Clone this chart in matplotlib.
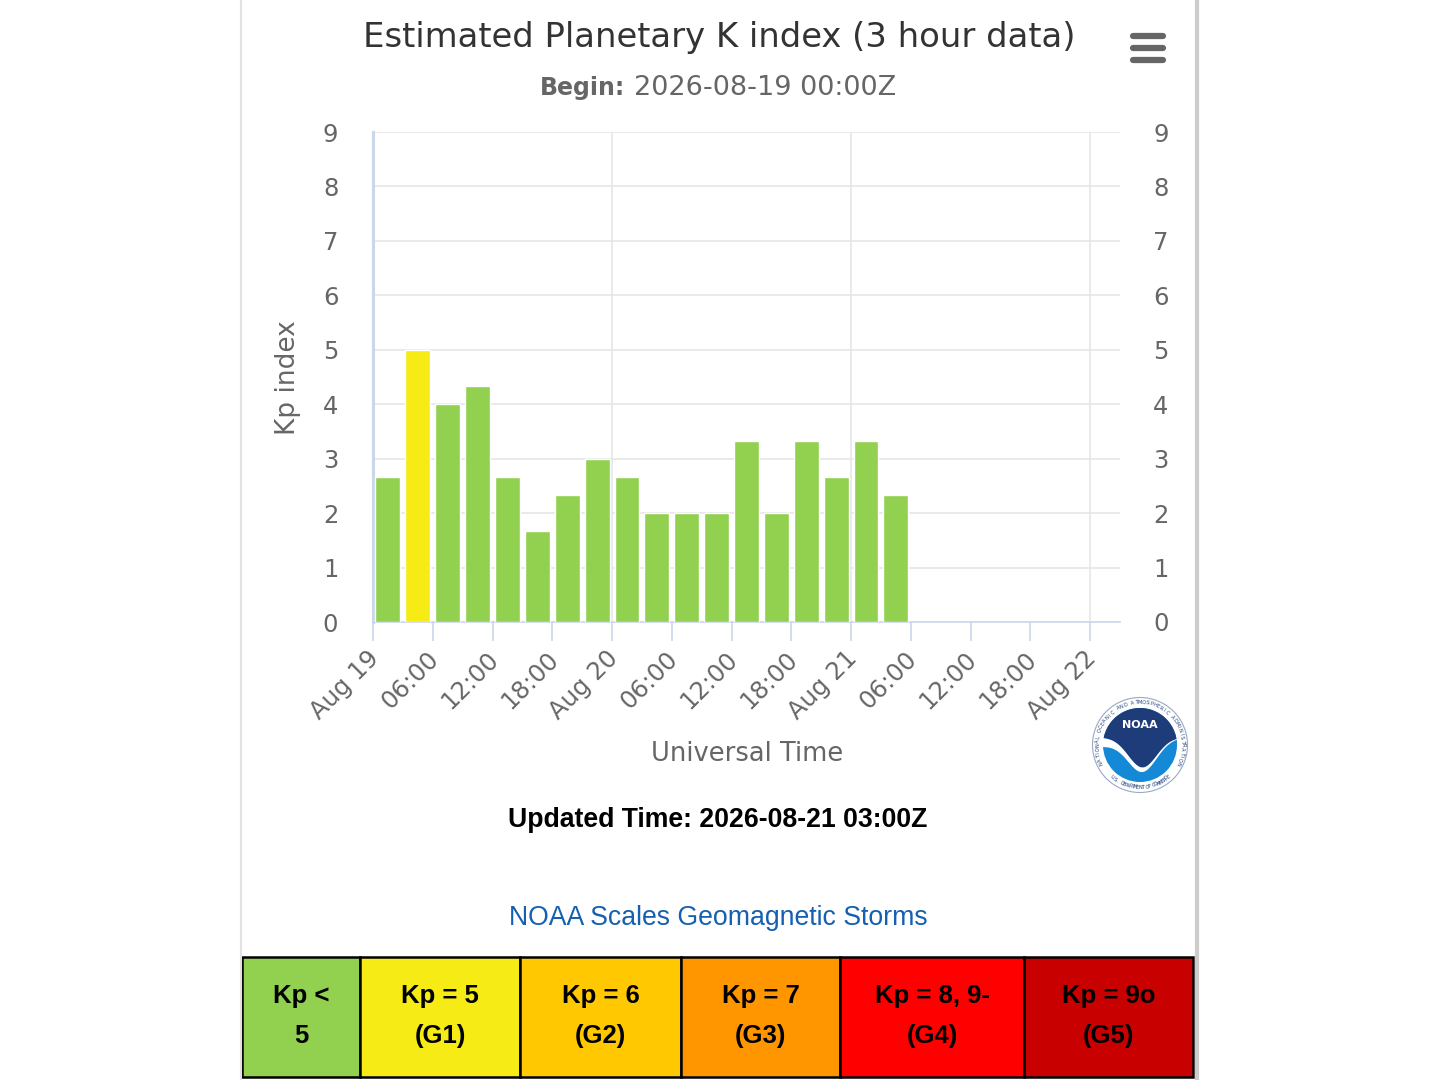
import numpy as np
import matplotlib
matplotlib.use("Agg")
import matplotlib.pyplot as plt
from matplotlib.patches import Rectangle, Circle, Polygon
from matplotlib.lines import Line2D
from matplotlib.transforms import ScaledTranslation

# Kp data, 3-hour intervals starting 2026-08-19 00:00Z (hours since begin)
hours = [0, 3, 6, 9, 12, 15, 18, 21, 24, 27, 30, 33, 36, 39, 42, 45, 48, 51]
kp = [2.67, 5.0, 4.0, 4.33, 2.67, 1.67, 2.33, 3.0, 2.67, 2.0, 2.0, 2.0,
      3.33, 2.0, 3.33, 2.67, 3.33, 2.33]

tick_hours = [0, 6, 12, 18, 24, 30, 36, 42, 48, 54, 60, 66, 72]
tick_labels = ["Aug 19", "06:00", "12:00", "18:00", "Aug 20", "06:00", "12:00",
               "18:00", "Aug 21", "06:00", "12:00", "18:00", "Aug 22"]
day_hours = [24, 48, 72]

scale_labels = [("Kp <", "5"), ("Kp = 5", "(G1)"), ("Kp = 6", "(G2)"),
                ("Kp = 7", "(G3)"), ("Kp = 8, 9-", "(G4)"), ("Kp = 9o", "(G5)")]
scale_colors = ["#92d050", "#f6eb14", "#ffc800", "#ff9600", "#ff0000", "#c80000"]
scale_edges = [242, 360, 520, 681, 840, 1024, 1193]  # pixel columns of the table


def bar_color(v):
    if v >= 9:
        return scale_colors[5]
    if v >= 8:
        return scale_colors[4]
    if v >= 7:
        return scale_colors[3]
    if v >= 6:
        return scale_colors[2]
    if v >= 5:
        return scale_colors[1]
    return scale_colors[0]


W, H = 1440, 1080
fig = plt.figure(figsize=(14.4, 10.8), dpi=100)
fig.patch.set_facecolor("white")


def fx(px):
    return px / W


def fy(py):
    return 1 - py / H


# page borders
fig.add_artist(Line2D([fx(241), fx(241)], [0, 1], color="#e2e2e2", lw=1.5))
fig.add_artist(Line2D([fx(1197), fx(1197)], [0, 1], color="#cccccc", lw=3))

# main axes
ax = fig.add_axes([fx(373), fy(622), fx(1120) - fx(373), fy(132) - fy(622)])
ax.set_xlim(0, 75)
ax.set_ylim(0, 9)
ax.set_axisbelow(True)
ax.grid(axis="y", color="#e6e6e6", lw=1.2)
for d in day_hours:
    ax.axvline(d, color="#e6e6e6", lw=1.2, zorder=0)

ax.bar([h + 1.5 for h in hours], kp, width=2.5, color=[bar_color(v) for v in kp],
       edgecolor="white", linewidth=1, zorder=3)

for s in ["top", "right"]:
    ax.spines[s].set_visible(False)
ax.spines["left"].set_color("#ccd6eb")
ax.spines["left"].set_linewidth(2.2)
ax.spines["bottom"].set_color("#ccd6eb")
ax.spines["bottom"].set_linewidth(1.2)

ax.set_xticks(tick_hours)
ax.set_xticklabels(tick_labels, rotation=45, ha="right", va="top",
                   rotation_mode="anchor")
ax.tick_params(axis="x", length=14, width=1.2, color="#ccd6eb", pad=3,
               labelsize=17.5, labelcolor="#666666")
shift = ScaledTranslation(-6 / 100, -1 / 100, fig.dpi_scale_trans)
for lab in ax.get_xticklabels():
    lab.set_transform(lab.get_transform() + shift)
ax.set_yticks(range(10))
ax.tick_params(axis="y", length=0, pad=25, labelsize=17.5, labelcolor="#666666")

ax2 = ax.twinx()
ax2.set_ylim(0, 9)
ax2.set_yticks(range(10))
ax2.tick_params(axis="y", length=0, pad=24, labelsize=17.5, labelcolor="#666666")
for s in ax2.spines.values():
    s.set_visible(False)

# titles and labels
fig.text(fx(719), fy(38), "Estimated Planetary K index (3 hour data)", ha="center",
         va="center", fontsize=24.4, color="#333333")
fig.text(fx(625), fy(88), "Begin:", ha="right", va="center", fontsize=17,
         fontweight="bold", color="#666666")
fig.text(fx(634), fy(88), "2026-08-19 00:00Z", ha="left", va="center", fontsize=19.5,
         color="#666666")
fig.text(fx(288), fy(378), "Kp index", rotation=90, ha="center", va="center",
         fontsize=19, color="#666666")
fig.text(fx(747), fy(754), "Universal Time", ha="center", va="center",
         fontsize=18.5, color="#666666")

# hamburger menu
for yy in [36, 48, 60]:
    fig.add_artist(Line2D([fx(1133), fx(1163)], [fy(yy), fy(yy)], color="#666666",
                          lw=4.5, solid_capstyle="round"))

fig.text(fx(718), fy(820), "Updated Time: 2026-08-21 03:00Z", ha="center", va="center",
         fontsize=19.2, fontweight="bold", family="Liberation Sans", color="black")
fig.text(fx(718), fy(918), "NOAA Scales Geomagnetic Storms", ha="center", va="center",
         fontsize=19.2, family="Liberation Sans", color="#1560b0")

# storm scale table
for i, (top, bot) in enumerate(scale_labels):
    x0, x1 = scale_edges[i], scale_edges[i + 1]
    fig.add_artist(Rectangle((fx(x0), fy(1077)), fx(x1) - fx(x0), fy(957) - fy(1077),
                             facecolor=scale_colors[i], edgecolor="black", lw=1.8,
                             transform=fig.transFigure))
    xc = fx((x0 + x1) / 2)
    fig.text(xc, fy(996), top, ha="center", va="center", fontsize=18.5,
             fontweight="bold", family="Liberation Sans", color="black")
    fig.text(xc, fy(1036), bot, ha="center", va="center", fontsize=18.5,
             fontweight="bold", family="Liberation Sans", color="black")

# NOAA logo
lax = fig.add_axes([fx(1090), fy(795), fx(1190) - fx(1090), fy(695) - fy(795)])
lax.set_xlim(-1, 1)
lax.set_ylim(-1, 1)
lax.set_aspect("equal")
lax.axis("off")
lax.add_patch(Circle((0, 0), 0.95, facecolor="white", edgecolor="#9aa9c4", lw=0.8))
lax.add_patch(Circle((0, 0), 0.74, facecolor="#1489d6", edgecolor="none"))
t = np.linspace(0, np.pi, 60)
upper = np.column_stack([0.74 * np.cos(t), 0.74 * np.sin(t)])
xs = np.linspace(-0.74, 0.74, 60)
lower_y = 0.15 - 0.6 * np.exp(-((xs - 0.05) / 0.4) ** 2)
navy = np.vstack([upper, np.column_stack([xs, lower_y])])
lax.add_patch(Polygon(navy, closed=True, facecolor="#1f3c7a", edgecolor="none"))
wing_top = np.column_stack([xs, lower_y])
wing_bot = np.column_stack([xs[::-1], lower_y[::-1] - 0.18 * np.clip(1 - (xs[::-1] + 0.74) / 1.6, 0, 1)])
lax.add_patch(Polygon(np.vstack([wing_top, wing_bot]), closed=True, facecolor="white",
                      edgecolor="none"))
lax.text(0, 0.4, "NOAA", ha="center", va="center", fontsize=8, fontweight="bold",
         color="white")

ring_top = "NATIONAL OCEANIC AND ATMOSPHERIC ADMINISTRATION"
angs = np.linspace(205, -25, len(ring_top))
for ch, a in zip(ring_top, angs):
    r = np.deg2rad(a)
    lax.text(0.85 * np.cos(r), 0.85 * np.sin(r), ch, rotation=a - 90, ha="center",
             va="center", fontsize=3.6, color="#1f3c7a")
ring_bot = "U.S. DEPARTMENT OF COMMERCE"
angs = np.linspace(228, 312, len(ring_bot))
for ch, a in zip(ring_bot, angs):
    r = np.deg2rad(a)
    lax.text(0.85 * np.cos(r), 0.85 * np.sin(r), ch, rotation=a + 90, ha="center",
             va="center", fontsize=3.6, color="#1f3c7a")

fig.savefig("out.png", dpi=100)
